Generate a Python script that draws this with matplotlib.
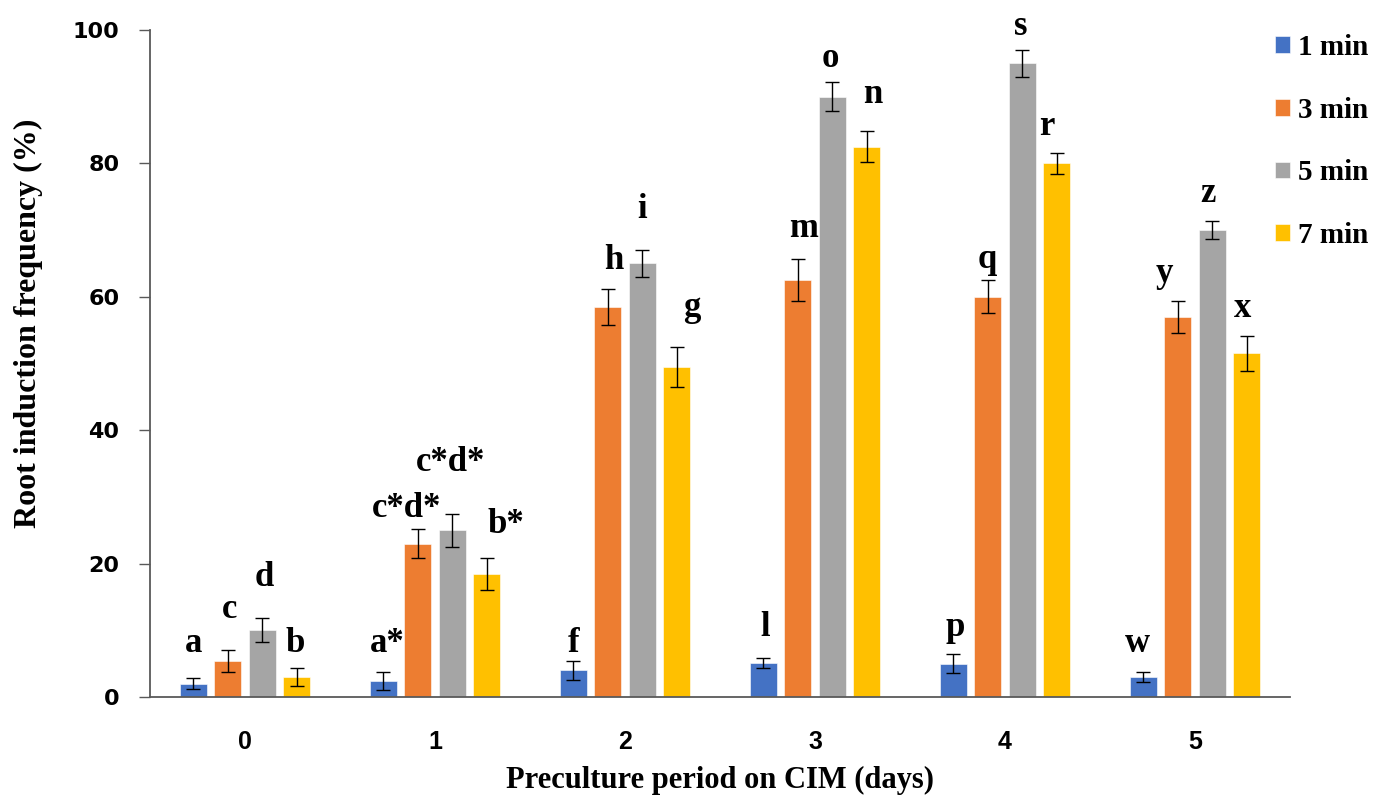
import matplotlib
matplotlib.use("Agg")
import matplotlib.pyplot as plt
import numpy as np

# preculture period on CIM (days)
days = ["0", "1", "2", "3", "4", "5"]
series = ["1 min", "3 min", "5 min", "7 min"]
colors = ["#4472C4", "#ED7D31", "#A5A5A5", "#FFC000"]

# mean root induction frequency (%) per series, one value per day
freq_1min = [2.0, 2.4, 4.0, 5.1, 5.0, 3.0]
freq_3min = [5.4, 23.0, 58.5, 62.5, 60.0, 57.0]
freq_5min = [10.0, 25.0, 65.0, 90.0, 95.0, 70.0]
freq_7min = [3.0, 18.4, 49.5, 82.5, 80.0, 51.5]

# error bars (+/-)
err_1min = [0.8, 1.3, 1.4, 0.7, 1.4, 0.8]
err_3min = [1.7, 2.2, 2.7, 3.1, 2.5, 2.4]
err_5min = [1.8, 2.5, 2.0, 2.2, 2.0, 1.4]
err_7min = [1.3, 2.4, 3.0, 2.3, 1.6, 2.6]

# significance letters
letters_1min = ["a", "a*", "f", "l", "p", "w"]
letters_3min = ["c", "c*d*", "h", "m", "q", "y"]
letters_5min = ["d", "c*d*", "i", "o", "s", "z"]
letters_7min = ["b", "b*", "g", "n", "r", "x"]

values = [freq_1min, freq_3min, freq_5min, freq_7min]
errors = [err_1min, err_3min, err_5min, err_7min]
letters = [letters_1min, letters_3min, letters_5min, letters_7min]

# label placement: gap above the error cap (data units) and sideways nudge (category units)
label_gap = [
    [4.0, 3.0, 1.4, 3.3, 2.7, 3.0],
    [4.7, 1.8, 3.0, 3.4, 1.8, 2.8],
    [4.9, 6.4, 4.8, 2.3, 2.3, 2.8],
    [2.5, 3.8, 4.6, 4.3, 2.7, 2.8],
]
label_dx = [
    [0.0, 0.02, 0.0, 0.01, 0.01, -0.03],
    [0.01, -0.06, 0.03, 0.03, 0.0, -0.07],
    [0.01, -0.01, 0.0, -0.01, -0.01, -0.02],
    [-0.01, 0.10, 0.08, 0.03, -0.05, -0.02],
]

SERIF = "Liberation Serif"

fig = plt.figure(figsize=(13.77, 7.98), dpi=100)
ax = fig.add_axes([150 / 1377, 1 - 697 / 798, 1140 / 1377, 667 / 798])

x = np.arange(len(days))
step = 0.1816
width = 0.142
for i, (vals, errs, name, col) in enumerate(zip(values, errors, series, colors)):
    pos = x + (i - 1.5) * step
    ax.bar(pos, vals, width=width, color=col, label=name, zorder=2,
           edgecolor="white", linewidth=0.4)
    ax.errorbar(pos, vals, yerr=errs, fmt="none", ecolor="black",
                elinewidth=1.0, capsize=5, capthick=1.0, zorder=3)
    for j, (p, v, e) in enumerate(zip(pos, vals, errs)):
        ax.text(p + label_dx[i][j], v + e + label_gap[i][j], letters[i][j],
                ha="center", va="baseline", fontsize=25, fontweight="bold",
                family=SERIF, zorder=4)

ax.set_xlim(-0.5, 5.5)
ax.set_ylim(0, 100)
ax.set_xticks(x)
ax.set_xticklabels(days)
ax.set_yticks(range(0, 101, 20))
ax.tick_params(axis="x", length=0, pad=24)
ax.tick_params(axis="y", length=8, width=1, color="#595959", direction="out", pad=14)
for lab in ax.get_yticklabels():
    lab.set_fontweight("bold")
    lab.set_fontsize(16)
    lab.set_family("DejaVu Sans")
for lab in ax.get_xticklabels():
    lab.set_fontweight("bold")
    lab.set_fontsize(18)
    lab.set_family("Liberation Sans")

for side in ["top", "right"]:
    ax.spines[side].set_visible(False)
for side in ["left", "bottom"]:
    ax.spines[side].set_color("#595959")
    ax.spines[side].set_linewidth(1.3)

ax.set_ylabel("Root induction frequency (%)", fontsize=23, fontweight="bold",
              family=SERIF)
ax.yaxis.set_label_coords(-0.094, 0.56)
ax.set_xlabel("Preculture period on CIM (days)", fontsize=22, fontweight="bold",
              family=SERIF)
ax.xaxis.set_label_coords(0.5, -0.104)

ax.legend(loc="upper left", bbox_to_anchor=(1275 / 1377, 1 - 34 / 798),
          bbox_transform=fig.transFigure, frameon=False, borderpad=0,
          borderaxespad=0,
          prop={"family": SERIF, "weight": "bold", "size": 21},
          handlelength=0.5, handleheight=0.5, handletextpad=0.3,
          labelspacing=1.22)

fig.savefig("out.png", dpi=100)
